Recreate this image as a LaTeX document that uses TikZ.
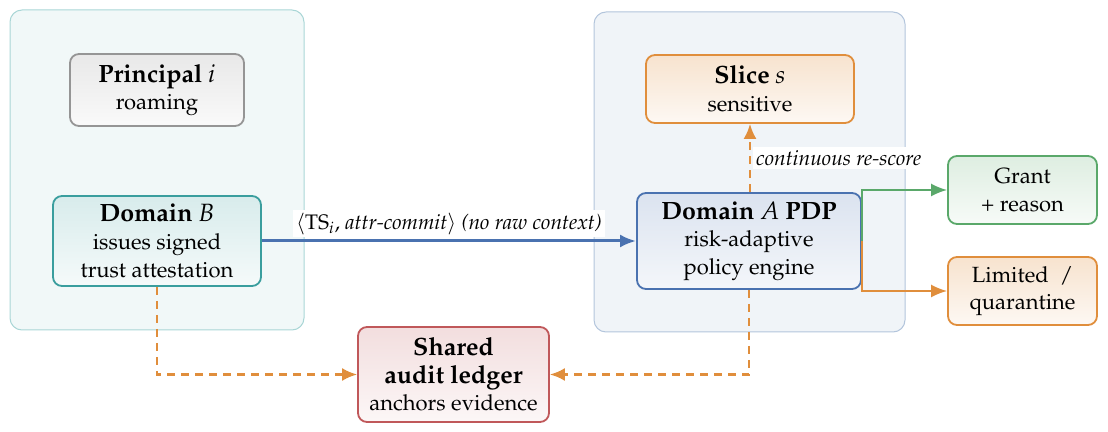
\documentclass[tikz,border=0pt]{standalone}
\usepackage[T1]{fontenc}
\usepackage{mathpazo}
\usetikzlibrary{arrows.meta}
\definecolor{tealB}{HTML}{3A9E9E}
\definecolor{tealG}{HTML}{A9D6D6}
\definecolor{tealF}{HTML}{F1F8F8}
\definecolor{blueA}{HTML}{4A72B0}
\definecolor{blueG}{HTML}{B3C5DC}
\definecolor{blueF}{HTML}{F0F4F8}
\definecolor{grayB}{HTML}{959595}
\definecolor{oran}{HTML}{E08E3C}
\definecolor{greenB}{HTML}{5AA86A}
\definecolor{redB}{HTML}{C0585A}
\newcommand{\ttl}[1]{{\fontsize{12.5}{14}\selectfont\textbf{#1}}}
\tikzset{
  grp/.style={draw, rounded corners=6pt, line width=0.5pt},
  bx/.style={draw, rounded corners=4.5pt, line width=0.9pt, align=center, inner sep=2pt,
    font=\fontsize{11}{13.8}\selectfont},
  graybox/.style={bx, draw=grayB, top color=black!9, bottom color=black!2},
  tealbox/.style={bx, draw=tealB, top color=tealB!20, bottom color=tealB!5},
  orbox/.style={bx, draw=oran, top color=oran!25, bottom color=oran!6},
  bluebox/.style={bx, draw=blueA, top color=blueA!20, bottom color=blueA!6},
  grbox/.style={bx, draw=greenB, top color=greenB!20, bottom color=greenB!5},
  redbox/.style={bx, draw=redB, top color=redB!20, bottom color=redB!5},
  flow/.style={line width=1.5pt, draw=blueA, -{Latex[length=8pt,width=6.5pt]}},
  dflow/.style={line width=1.2pt, draw=oran, dash pattern=on 4pt off 3pt, -{Latex[length=7.5pt,width=6.5pt]}},
  gflow/.style={line width=1pt, -{Latex[length=8pt,width=6.5pt]}},
  lbl/.style={fill=white, inner sep=1.5pt, font=\fontsize{10.5}{12.5}\selectfont},
}
\begin{document}
\begin{tikzpicture}[x=0.5pt,y=-0.5pt]
\useasboundingbox (0,0) rectangle (1108,432);
% groups
\draw[grp, draw=tealG, fill=tealF] (10,10) rectangle (304,330);
\draw[grp, draw=blueG, fill=blueF] (594,12) rectangle (905,332);
% nodes
\node[graybox, minimum width=87pt, minimum height=36pt] (P) at (157,90)
  {\ttl{Principal} {\fontsize{12.5}{14}\selectfont$i$}\\roaming};
\node[tealbox, minimum width=104pt, minimum height=45pt] (B) at (157,241)
  {\ttl{Domain} {\fontsize{12.5}{14}\selectfont$B$}\\issues signed\\trust attestation};
\node[orbox, minimum width=104pt, minimum height=34pt] (S) at (750,89)
  {\ttl{Slice} {\fontsize{12.5}{14}\selectfont$s$}\\sensitive};
\node[bluebox, minimum width=112pt, minimum height=48pt] (A) at (749,241)
  {\ttl{Domain} {\fontsize{12.5}{14}\selectfont$A$} \ttl{PDP}\\risk-adaptive\\policy engine};
\node[grbox, minimum width=74.5pt, minimum height=34pt] (G) at (1022.5,190)
  {Grant\\+ reason};
\node[orbox, minimum width=74.5pt, minimum height=34pt] (Q) at (1022.5,291)
  {Limited\ \ /\\quarantine};
\node[redbox, minimum width=95.5pt, minimum height=47.5pt] (L) at (453.5,374.5)
  {\ttl{Shared}\\\ttl{audit ledger}\\anchors evidence};
% connectors
\draw[flow] (B.east) -- (A.west)
  node[lbl, midway, above=1pt] (lab) {$\langle\mathrm{TS}_i$, \textit{attr-commit}$\rangle$ \textit{(no raw context)}};
\draw[dflow] (A.north -| S.south) -- (S.south)
  node[lbl, pos=0.5, anchor=west, xshift=1pt] (cr) {\textit{continuous re-score}};
\draw[gflow, draw=greenB] (A.east) |- (G.west);
\draw[gflow, draw=oran] (A.east) |- (Q.west);
\draw[dflow] (B.south) |- (L.west);
\draw[dflow] (A.south) |- (L.east);
\end{tikzpicture}
\end{document}
